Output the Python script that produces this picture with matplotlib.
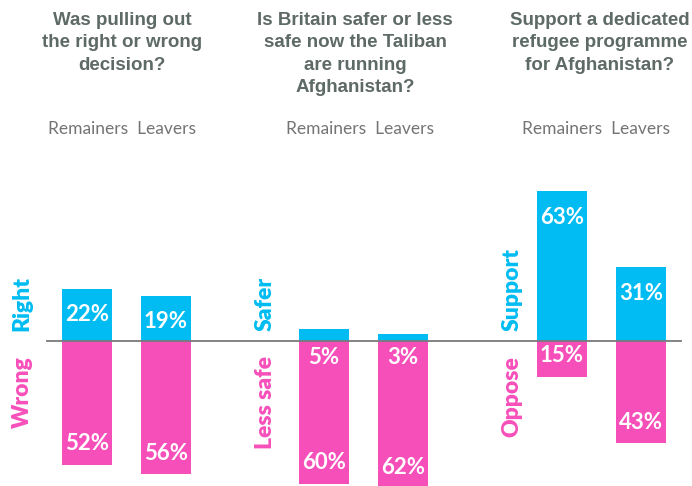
import matplotlib
matplotlib.use("Agg")
import matplotlib.pyplot as plt

questions = [
    "Was pulling out\nthe right or wrong\ndecision?",
    "Is Britain safer or less\nsafe now the Taliban\nare running\nAfghanistan?",
    "Support a dedicated\nrefugee programme\nfor Afghanistan?",
]
groups = ["Remainers", "Leavers"]
pos_labels = ["Right", "Safer", "Support"]
neg_labels = ["Wrong", "Less safe", "Oppose"]
pos_values = [[22, 19], [5, 3], [63, 31]]
neg_values = [[52, 56], [60, 62], [15, 43]]

BLUE = "#00BCF2"
PINK = "#F74FBA"
GREY_T = "#5E6A66"
GREY_S = "#747474"

W, H = 692, 486
BASE = 341.0
PXP = 2.38  # pixels per percent


def py(y):
    return (BASE - y) / PXP


fig = plt.figure(figsize=(W / 100, H / 100), dpi=100)
ax = fig.add_axes([0, 0, 1, 1])
ax.set_xlim(0, W)
ax.set_ylim(py(H), py(0))
ax.axis("off")

centers = [[87, 166], [324, 403], [562, 641]]
title_x = [122, 355, 600]
sub_x = [122, 360, 596]
side_x = [22, 265, 512]
bw = 50

num_font = dict(family=["Lato", "DejaVu Sans"], weight="bold", fontsize=16, color="white")

for g in range(3):
    for j in range(2):
        x = centers[g][j]
        pv = pos_values[g][j]
        nv = neg_values[g][j]
        ax.bar(x, pv, width=bw, color=BLUE, zorder=2)
        ax.bar(x, -nv, width=bw, color=PINK, zorder=2)
        if pv >= 10:
            ax.text(x, pv - 26 / PXP, f"{pv}%", ha="center", va="center", zorder=4, **num_font)
        else:
            ax.text(x, -16 / PXP, f"{pv}%", ha="center", va="center", zorder=4, **num_font)
        if nv >= 25:
            ax.text(x, -nv + 21 / PXP, f"{nv}%", ha="center", va="center", zorder=4, **num_font)
        else:
            ax.text(x, -14 / PXP, f"{nv}%", ha="center", va="center", zorder=4, **num_font)

    ax.text(title_x[g], py(12), questions[g], ha="center", va="top", fontsize=13.5,
            fontweight="bold", color=GREY_T, family=["Liberation Sans", "DejaVu Sans"],
            linespacing=1.42)
    ax.text(sub_x[g], py(129), "  ".join(groups), ha="center", va="center", fontsize=12.5,
            color=GREY_S, family=["Lato", "DejaVu Sans"], fontweight="normal")
    ax.text(side_x[g], py(331), pos_labels[g], rotation=90, ha="center", va="bottom",
            fontsize=16.5, fontweight="heavy", color=BLUE, family=["Lato", "DejaVu Sans"])
    ax.text(side_x[g], py(356), neg_labels[g], rotation=90, ha="center", va="top",
            fontsize=16.5, fontweight="heavy", color=PINK, family=["Lato", "DejaVu Sans"])

ax.plot([47, 681], [0, 0], color="#7A7A7A", linewidth=1.3, zorder=3)

fig.savefig("out.png", dpi=100)
